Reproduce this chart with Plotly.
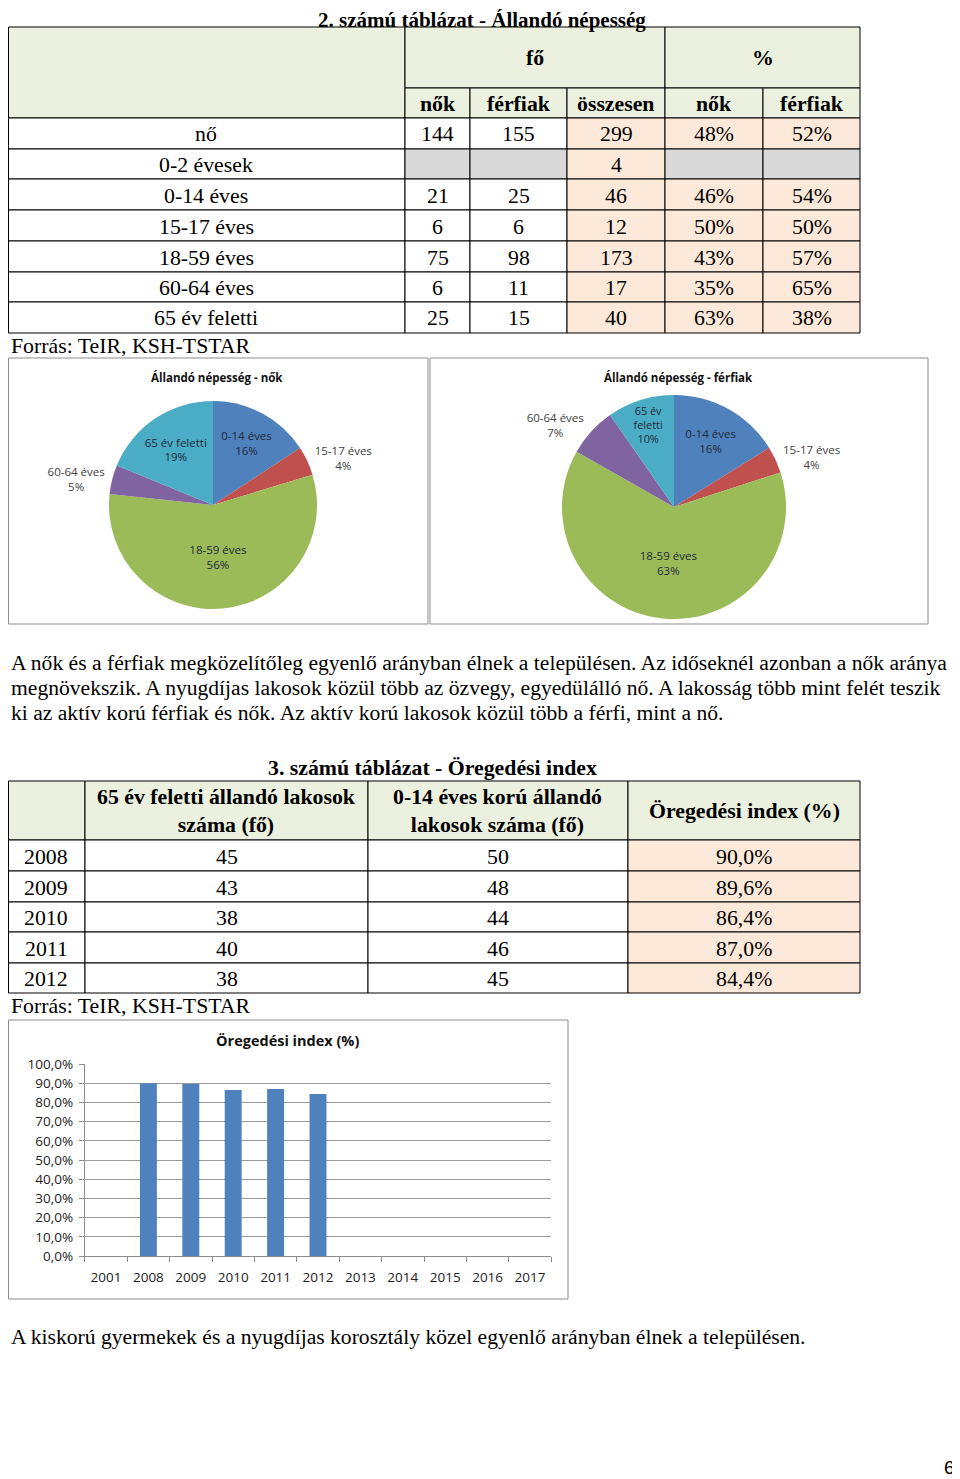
import plotly.graph_objects as go

# ---------------- data ----------------
t1_title = "2. számú táblázat - Állandó népesség"
t1_rows = ["nő", "0-2 évesek", "0-14 éves", "15-17 éves", "18-59 éves", "60-64 éves", "65 év feletti"]
t1_nok = [144, None, 21, 6, 75, 6, 25]
t1_ferfiak = [155, None, 25, 6, 98, 11, 15]
t1_osszesen = [299, 4, 46, 12, 173, 17, 40]
t1_nok_pct = [48, None, 46, 50, 43, 35, 63]
t1_ferfiak_pct = [52, None, 54, 50, 57, 65, 38]
source_text = "Forrás: TeIR, KSH-TSTAR"

pie_labels = ["0-14 éves", "15-17 éves", "18-59 éves", "60-64 éves", "65 év feletti"]
pie_nok = [21, 6, 75, 6, 25]
pie_nok_pct = ["16%", "4%", "56%", "5%", "19%"]
pie_ferfiak = [25, 6, 98, 11, 15]
pie_ferfiak_pct = ["16%", "4%", "63%", "7%", "10%"]
pie_colors = ["#4F81BD", "#C0504D", "#9BBB59", "#8064A2", "#4BACC6"]

para1 = [
    "A nők és a férfiak megközelítőleg egyenlő arányban élnek a településen. Az időseknél azonban a nők aránya",
    "megnövekszik. A nyugdíjas lakosok közül több az özvegy, egyedülálló nő. A lakosság több mint felét teszik",
    "ki az aktív korú férfiak és nők. Az aktív korú lakosok közül több a férfi, mint a nő.",
]

t3_title = "3. számú táblázat - Öregedési index"
t3_headers = ["", "65 év feletti állandó lakosok<br>száma (fő)", "0-14 éves korú állandó<br>lakosok száma (fő)", "Öregedési index (%)"]
t3_years = ["2008", "2009", "2010", "2011", "2012"]
t3_over65 = [45, 43, 38, 40, 38]
t3_under14 = [50, 48, 44, 46, 45]
t3_index = [90.0, 89.6, 86.4, 87.0, 84.4]

bar_title = "Öregedési index (%)"
bar_years = ["2001", "2008", "2009", "2010", "2011", "2012", "2013", "2014", "2015", "2016", "2017"]
index_by_year = dict(zip(t3_years, t3_index))
bar_values = [index_by_year[y] / 100 if y in index_by_year else None for y in bar_years]

para2 = "A kiskorú gyermekek és a nyugdíjas korosztály közel egyenlő arányban élnek a településen."
page_no = "6"

# ---------------- helpers ----------------
W, H = 960, 1479
OFF = 8  # page body margin offset
SERIF = "Liberation Serif, Times New Roman, serif"
SANS = "Open Sans, Liberation Sans, sans-serif"
GREEN = "#EBF1DE"
ORANGE = "#FDE9D9"
GRAY = "#D9D9D9"

def X(x):
    return max(x - OFF, 0.5) / W

def Y(y):
    return 1 - max(y - OFF, 0.5) / H

shapes = []
annotations = []

def rect(x0, y0, x1, y1, fill, line="black", width=1):
    shapes.append(dict(type="rect", xref="paper", yref="paper",
                       x0=X(x0), x1=X(x1), y0=Y(y1), y1=Y(y0),
                       fillcolor=fill, line=dict(color=line, width=width), layer="below"))

def txt(x, y, s, size=21.8, bold=False, anchor="center", family=SERIF, color="black"):
    if bold:
        s = "<b>" + s + "</b>"
    annotations.append(dict(xref="paper", yref="paper", x=X(x), y=Y(y), text=s,
                            showarrow=False, xanchor=anchor, yanchor="middle",
                            font=dict(family=family, size=size, color=color)))

def fmt(v, suffix=""):
    return "" if v is None else f"{v}{suffix}"

# ---------------- table 1 ----------------
FS = 21.8
txt(482, 20, t1_title, 21, bold=True)
c1 = [7, 405, 470, 567, 665, 763, 860]
r1 = [27, 88, 118, 149, 179, 210, 241, 272, 302, 333]
rect(c1[0], r1[0], c1[1], r1[2], GREEN)
rect(c1[1], r1[0], c1[4], r1[1], GREEN)
rect(c1[4], r1[0], c1[6], r1[1], GREEN)
txt((c1[1] + c1[4]) / 2, (r1[0] + r1[1]) / 2, "fő", FS, bold=True)
txt((c1[4] + c1[6]) / 2, (r1[0] + r1[1]) / 2, "%", FS, bold=True)
sub = ["nők", "férfiak", "összesen", "nők", "férfiak"]
for j, s in enumerate(sub):
    rect(c1[j + 1], r1[1], c1[j + 2], r1[2], GREEN)
    txt((c1[j + 1] + c1[j + 2]) / 2, (r1[1] + r1[2]) / 2 + 1, s, FS, bold=True)

for i, lab in enumerate(t1_rows):
    y0, y1 = r1[2 + i], r1[3 + i]
    ym = (y0 + y1) / 2 + 1
    rect(c1[0], y0, c1[1], y1, "white")
    txt((c1[0] + c1[1]) / 2, ym, lab, FS)
    cols = [(t1_nok[i], "", "white"), (t1_ferfiak[i], "", "white"),
            (t1_osszesen[i], "", ORANGE), (t1_nok_pct[i], "%", ORANGE),
            (t1_ferfiak_pct[i], "%", ORANGE)]
    for j, (v, suf, fill) in enumerate(cols):
        f = GRAY if v is None else fill
        rect(c1[j + 1], y0, c1[j + 2], y1, f)
        if v is not None:
            txt((c1[j + 1] + c1[j + 2]) / 2, ym, fmt(v, suf), FS)

txt(7, 346, source_text, FS, anchor="left")

# ---------------- pies ----------------
rect(7, 358, 428, 624, "white", line="#8c8c8c")
rect(430, 358, 928, 624, "white", line="#8c8c8c")
txt(217, 377, "Állandó népesség - nők", 11.5, bold=True, family=SANS, color="#111")
txt(678, 377, "Állandó népesség - férfiak", 11.5, bold=True, family=SANS, color="#111")

nok_text = [l + "<br>" + p for l, p in zip(pie_labels, pie_nok_pct)]
ferfi_text = [("65 év<br>feletti<br>" + p) if l == "65 év feletti" else (l + "<br>" + p)
              for l, p in zip(pie_labels, pie_ferfiak_pct)]
positions = ["inside", "outside", "inside", "outside", "inside"]

fig = go.Figure()
fig.add_trace(go.Pie(
    labels=pie_labels, values=pie_nok, text=nok_text, textinfo="text",
    textposition=positions, insidetextorientation="horizontal",
    sort=False, direction="clockwise", rotation=0,
    marker=dict(colors=pie_colors, line=dict(width=0)),
    insidetextfont=dict(family=SANS, size=11.5, color="#1f2a3a"),
    outsidetextfont=dict(family=SANS, size=11.5, color="#404040"),
    domain=dict(x=[X(109), X(317)], y=[Y(609), Y(401)]),
    showlegend=False, hoverinfo="label+value",
))
fig.add_trace(go.Pie(
    labels=pie_labels, values=pie_ferfiak, text=ferfi_text, textinfo="text",
    textposition=positions, insidetextorientation="horizontal",
    sort=False, direction="clockwise", rotation=0,
    marker=dict(colors=pie_colors, line=dict(width=0)),
    insidetextfont=dict(family=SANS, size=11.5, color="#1f2a3a"),
    outsidetextfont=dict(family=SANS, size=11.5, color="#404040"),
    domain=dict(x=[X(560), X(788)], y=[Y(619), Y(395)]),
    showlegend=False, hoverinfo="label+value",
))

# ---------------- paragraph 1 ----------------
for k, line in enumerate(para1):
    txt(7, 663 + 25 * k, line, 21.6, anchor="left")

# ---------------- table 3 ----------------
txt(432, 768, t3_title, FS, bold=True)
c3 = [7, 85, 368, 628, 860]
r3 = [781, 840, 871, 902, 932, 963, 993]
for j, h in enumerate(t3_headers):
    rect(c3[j], r3[0], c3[j + 1], r3[1], GREEN)
    if h:
        txt((c3[j] + c3[j + 1]) / 2, (r3[0] + r3[1]) / 2, h, FS, bold=True)
for i, yr in enumerate(t3_years):
    y0, y1 = r3[1 + i], r3[2 + i]
    ym = (y0 + y1) / 2 + 1
    vals = [(yr, "white"), (str(t3_over65[i]), "white"), (str(t3_under14[i]), "white"),
            (f"{t3_index[i]:.1f}".replace(".", ",") + "%", ORANGE)]
    for j, (s, fill) in enumerate(vals):
        rect(c3[j], y0, c3[j + 1], y1, fill)
        txt((c3[j] + c3[j + 1]) / 2, ym, s, FS)
txt(7, 1006, source_text, FS, anchor="left")

# ---------------- bar chart ----------------
rect(7, 1020, 568, 1299, "white", line="#8c8c8c")
txt(287, 1040, bar_title, 14.5, bold=True, family=SANS, color="#111")
fig.add_trace(go.Bar(x=bar_years, y=bar_values, marker=dict(color="#4F81BD", line=dict(width=0)),
                     showlegend=False, xaxis="x", yaxis="y"))

# ---------------- paragraph 2 + page ----------------
txt(7, 1337, para2, 21.6, anchor="left")
txt(957, 1467, page_no, 19, anchor="right", family="Liberation Sans, Arial, sans-serif")

fig.update_layout(
    width=W, height=H, autosize=False,
    margin=dict(l=0, r=0, t=0, b=0, pad=0),
    paper_bgcolor="white", plot_bgcolor="rgba(0,0,0,0)",
    separators=",.",
    bargap=0.6, showlegend=False,
    shapes=shapes, annotations=annotations,
    xaxis=dict(domain=[X(84.8), X(551.2)], type="category", categoryorder="array",
               categoryarray=bar_years, tickson="boundaries", ticks="outside", ticklen=5,
               tickcolor="#8c8c8c", showline=True, linecolor="#8c8c8c", linewidth=1,
               showgrid=False, zeroline=False, ticklabelstandoff=9, automargin=False,
               tickfont=dict(family=SANS, size=13.5, color="#222"), fixedrange=True),
    yaxis=dict(domain=[Y(1256), Y(1064)], range=[0, 1], dtick=0.1, tickformat=".1%",
               ticks="outside", ticklen=5, tickcolor="#8c8c8c", showline=True,
               linecolor="#8c8c8c", linewidth=1, showgrid=True, gridcolor="#9a9a9a",
               gridwidth=1, zeroline=False, ticklabelstandoff=3, automargin=False,
               tickfont=dict(family=SANS, size=13.5, color="#222"), fixedrange=True),
)

fig.write_html("out.html")
